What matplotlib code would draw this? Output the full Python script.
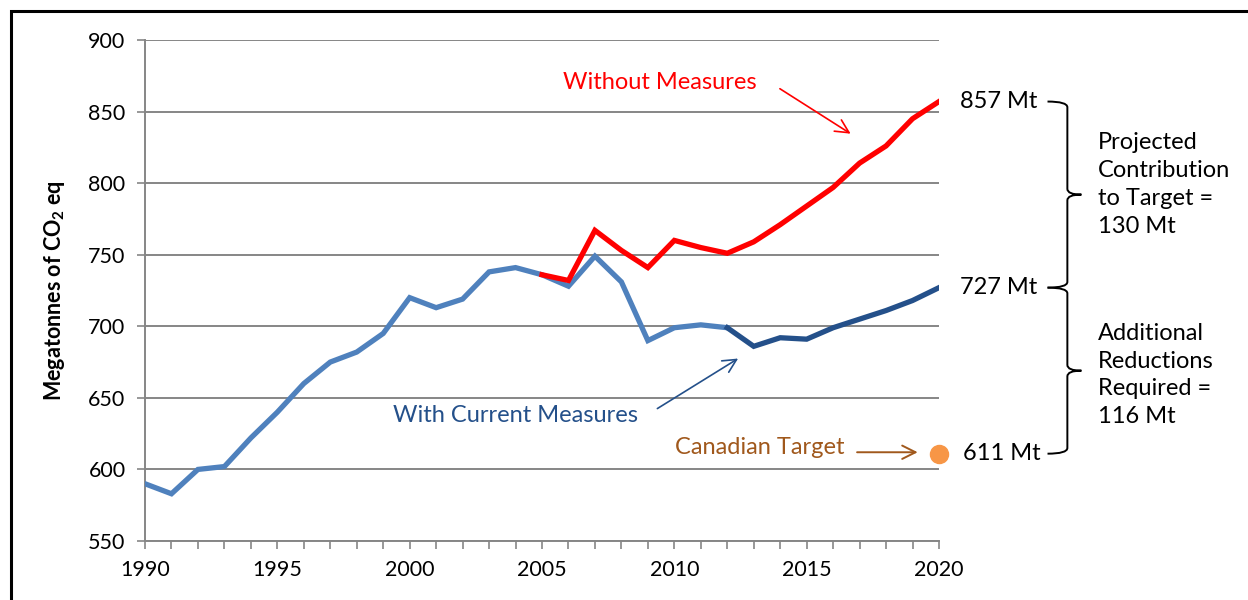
import matplotlib
matplotlib.use("Agg")
import matplotlib.pyplot as plt
from matplotlib.path import Path
from matplotlib.patches import PathPatch, Rectangle

plt.rcParams['font.family'] = ['Lato', 'DejaVu Sans']
plt.rcParams['mathtext.fontset'] = 'custom'
plt.rcParams['mathtext.rm'] = 'Lato'
plt.rcParams['mathtext.bf'] = 'Lato:bold'

# data (Mt CO2 eq)
hist_years = list(range(1990, 2013))
hist_vals = [590, 583, 600, 602, 622, 640, 660, 675, 682, 695, 720, 713, 719,
             738, 741, 736, 728, 749, 731, 690, 699, 701, 699]
proj_years = list(range(2012, 2021))
proj_vals = [699, 686, 692, 691, 699, 705, 711, 718, 727]
without_years = list(range(2005, 2021))
without_vals = [736, 732, 767, 753, 741, 760, 755, 751, 759, 771, 784, 797,
                814, 826, 845, 857]
target_year = 2020
target_val = 611

LIGHT_BLUE = '#4F81BD'
DARK_BLUE = '#24508A'
RED = '#FF0000'
ORANGE = '#F79646'
BROWN = '#A0581C'
GRID = '#868686'
FS = 17
FS_TICK = 15.5

W, H = 1248, 600
fig = plt.figure(figsize=(W / 100, H / 100), dpi=100)
ax = fig.add_axes([145 / W, (H - 541) / H, (939 - 145) / W, (541 - 40) / H])

# outer frame (only top/left visible in the crop)
fig.patches.append(Rectangle((11 / W, -0.1), 1.2, (H - 11) / H + 0.1,
                             transform=fig.transFigure, fill=False,
                             edgecolor='black', lw=2.2))

ax.plot(hist_years, hist_vals, color=LIGHT_BLUE, lw=3.8, solid_joinstyle='miter', zorder=3)
ax.plot(proj_years, proj_vals, color=DARK_BLUE, lw=3.8, solid_joinstyle='miter', zorder=3)
ax.plot(without_years, without_vals, color=RED, lw=3.8, solid_joinstyle='miter', zorder=3)
ax.plot([target_year], [target_val], 'o', color=ORANGE, ms=13, clip_on=False, zorder=4)

ax.set_xlim(1990, 2020)
ax.set_ylim(550, 900)
ax.set_xticks(range(1990, 2021, 5))
ax.set_xticks(range(1990, 2021), minor=True)
ax.set_yticks(range(550, 901, 50))
ax.yaxis.grid(True, color=GRID, lw=1.4)
ax.set_axisbelow(True)
for s in ['top', 'right']:
    ax.spines[s].set_visible(False)
for s in ['left', 'bottom']:
    ax.spines[s].set_color(GRID)
    ax.spines[s].set_linewidth(1.4)
ax.tick_params(axis='both', which='both', color=GRID, width=1.2, length=6,
               labelsize=FS_TICK, pad=8)
ax.tick_params(axis='x', which='minor', length=6)
ax.set_ylabel(r'Megatonnes of CO$_\mathbf{2}$ eq', fontsize=15.5, fontweight='bold',
              labelpad=15)

# annotations
ax.text(2009.46, 870, 'Without Measures', color=RED, fontsize=FS, ha='center', va='center')
ax.annotate('', xy=(2016.75, 833.5), xytext=(2013.9, 867),
            arrowprops=dict(arrowstyle='->', color=RED, lw=1.2, mutation_scale=24))
ax.text(2003.98, 638, 'With Current Measures', color=DARK_BLUE, fontsize=FS,
        ha='center', va='center')
ax.annotate('', xy=(2012.5, 678.5), xytext=(2009.27, 641.5),
            arrowprops=dict(arrowstyle='->', color=DARK_BLUE, lw=1.2, mutation_scale=24))
ax.text(2013.24, 615, 'Canadian Target', color=BROWN, fontsize=FS, ha='center', va='center')
ax.annotate('', xy=(2019.3, 612), xytext=(2016.8, 612),
            arrowprops=dict(arrowstyle='->', color=BROWN, lw=1.4, mutation_scale=24),
            annotation_clip=False)

for val, x in [(857, 2020.79), (727, 2020.79), (611, 2020.9)]:
    ax.text(x, val, f'{val} Mt', fontsize=FS, ha='left', va='center', clip_on=False)


def brace(ytop, ybot, x0=2024.1, xv=2024.85, xtip=2025.38, r=4.0):
    ymid = (ytop + ybot) / 2
    verts = [(x0, ytop), (xv, ytop), (xv, ytop - r),
             (xv, ymid + r), (xv, ymid), (xtip, ymid),
             (xv, ymid), (xv, ymid - r),
             (xv, ybot + r), (xv, ybot), (x0, ybot)]
    codes = [Path.MOVETO, Path.CURVE3, Path.CURVE3,
             Path.LINETO, Path.CURVE3, Path.CURVE3,
             Path.CURVE3, Path.CURVE3,
             Path.LINETO, Path.CURVE3, Path.CURVE3]
    ax.add_patch(PathPatch(Path(verts, codes), fill=False, lw=1.4,
                           edgecolor='black', clip_on=False))


brace(857, 727)
brace(727, 611)
ax.text(2026.0, 799, 'Projected\nContribution\nto Target =\n130 Mt', fontsize=FS,
        ha='left', va='center', linespacing=1.4, clip_on=False)
ax.text(2026.0, 666, 'Additional\nReductions\nRequired =\n116 Mt', fontsize=FS,
        ha='left', va='center', linespacing=1.4, clip_on=False)

fig.savefig('out.png', dpi=100)
